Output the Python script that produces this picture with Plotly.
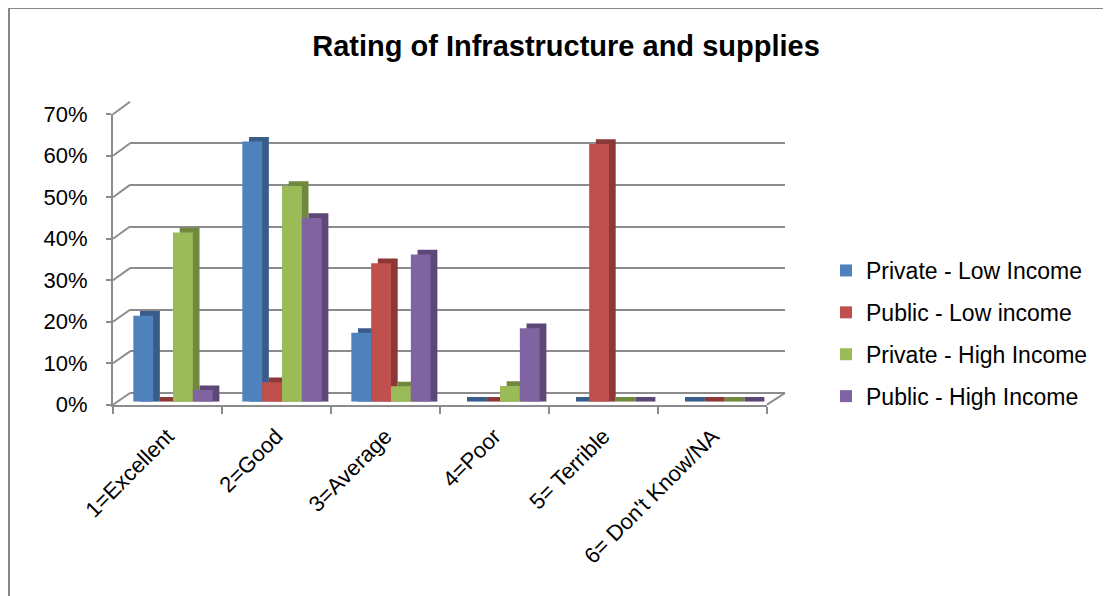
import plotly.graph_objects as go

categories = ["1=Excellent", "2=Good", "3=Average", "4=Poor", "5= Terrible", "6= Don't Know/NA"]
series_names = ["Private - Low Income", "Public - Low income", "Private - High Income", "Public - High Income"]
private_low = [0.207, 0.627, 0.166, 0.0, 0.0, 0.0]
public_low = [0.0, 0.047, 0.334, 0.0, 0.621, 0.0]
private_high = [0.408, 0.520, 0.037, 0.038, 0.0, 0.0]
public_high = [0.028, 0.443, 0.355, 0.177, 0.0, 0.0]
series_values = [private_low, public_low, private_high, public_high]
y_ticks = [0.0, 0.1, 0.2, 0.3, 0.4, 0.5, 0.6, 0.7]

front_colors = ["#4F81BD", "#C0504D", "#9BBB59", "#8064A2"]
side_colors = ["#385D8A", "#8C3836", "#71893F", "#5C4776"]

W, H = 1111, 596
PAGE_OFF = 8  # default body margin of the page
FONT = "Liberation Sans, Arial, sans-serif"
GRID = "#8c8c8c"

# pixel geometry (screen pixels) of the pseudo-3D walls
FX0, FX1, FY0, FY1 = 113, 767, 404.7, 114.3   # front axes
BX0, BX1, BY0, BY1 = 130, 785, 393.0, 101.7   # back wall
SX, SY = 5.5, 3.0                              # bar layer shift
YMAX = 0.7


def px(p):
    return (p - PAGE_OFF) / W


def py(p):
    return 1 - (p - PAGE_OFF) / H


cat_px = (FX1 - FX0) / len(categories)
bar_w = 0.182
dx_units = 6.7 / cat_px
dy_units = 4.7 / ((FY0 - FY1) / YMAX)

fig = go.Figure()
# anchor traces so the wall and front-axis subplots are drawn
fig.add_trace(go.Scatter(x=[], y=[], xaxis="x", yaxis="y", showlegend=False, hoverinfo="skip"))
for i, (name, vals) in enumerate(zip(series_names, series_values)):
    off = -2 * bar_w + i * bar_w
    # side/top face (shadow)
    fig.add_trace(go.Bar(
        x=categories, y=[v + dy_units for v in vals], base=0,
        offset=off + dx_units, width=bar_w,
        marker=dict(color=side_colors[i], line=dict(width=0)),
        xaxis="x2", yaxis="y2", showlegend=False, hoverinfo="skip",
        legendgroup=name,
    ))
    # front face
    fig.add_trace(go.Bar(
        x=categories, y=vals, name=name,
        offset=off, width=bar_w,
        marker=dict(color=front_colors[i], line=dict(width=0)),
        xaxis="x2", yaxis="y2", legendgroup=name,
    ))
fig.add_trace(go.Scatter(x=[], y=[], xaxis="x3", yaxis="y3", showlegend=False, hoverinfo="skip"))

n = len(categories)
shapes = []
# connectors from front ticks to back wall gridlines
for v in y_ticks:
    fy = FY0 - (FY0 - FY1) * v / YMAX
    by = BY0 - (BY0 - BY1) * v / YMAX
    shapes.append(dict(type="line", xref="paper", yref="paper",
                       x0=px(FX0), y0=py(fy), x1=px(BX0), y1=py(by),
                       line=dict(color=GRID, width=2)))
# right floor edge
shapes.append(dict(type="line", xref="paper", yref="paper",
                   x0=px(FX1), y0=py(FY0), x1=px(BX1), y1=py(BY0),
                   line=dict(color=GRID, width=2)))
# outer chart border
shapes.append(dict(type="rect", xref="paper", yref="paper",
                   x0=px(9), y0=py(8), x1=1.02, y1=-0.05,
                   line=dict(color="#868686", width=2), fillcolor="rgba(0,0,0,0)"))

fig.update_layout(
    width=W, height=H, autosize=False,
    margin=dict(l=0, r=0, t=0, b=0, autoexpand=False),
    paper_bgcolor="white", plot_bgcolor="rgba(0,0,0,0)",
    barmode="overlay",
    font=dict(family=FONT, color="black"),
    title=dict(text="<b>Rating of Infrastructure and supplies</b>",
               font=dict(family=FONT, size=29, color="black"),
               x=px(566), xanchor="center", y=py(46), yanchor="middle"),
    # back wall grid
    xaxis=dict(domain=[px(BX0), px(BX1)], range=[-0.5, n - 0.5], anchor="y",
               showgrid=False, showline=False, zeroline=False,
               showticklabels=False, ticks="", automargin=False),
    yaxis=dict(domain=[py(BY0), py(BY1)], range=[0, YMAX], anchor="x",
               tickmode="array", tickvals=y_ticks, showgrid=True, gridcolor=GRID, gridwidth=2,
               zeroline=True, zerolinecolor=GRID, zerolinewidth=2,
               showline=False, showticklabels=False, ticks="", automargin=False),
    # bar layer
    xaxis2=dict(domain=[px(FX0 + SX), px(FX1 + SX)], anchor="y2",
                type="category", categoryorder="array", categoryarray=categories,
                range=[-0.5, n - 0.5], visible=False, automargin=False),
    yaxis2=dict(domain=[py(FY0 - SY), py(FY1 - SY)], anchor="x2",
                range=[0, YMAX], visible=False, automargin=False),
    # front axes
    xaxis3=dict(domain=[px(FX0), px(FX1)], anchor="y3", range=[-0.5, n - 0.5],
                tickmode="array", tickvals=list(range(n)), ticktext=categories,
                tickangle=-45, ticks="", ticklabelstandoff=8,
                tickfont=dict(family=FONT, size=22, color="black"),
                minor=dict(tickmode="array", tickvals=[k - 0.5 for k in range(n + 1)],
                           ticks="outside", ticklen=7, tickwidth=2, tickcolor=GRID),
                showline=True, linecolor=GRID, linewidth=2,
                showgrid=False, zeroline=False, automargin=False),
    yaxis3=dict(domain=[py(FY0), py(FY1)], anchor="x3", range=[0, YMAX],
                tickmode="array", tickvals=y_ticks, tickformat=".0%",
                ticks="outside", ticklen=5, tickwidth=2, tickcolor=GRID,
                ticklabelstandoff=14,
                tickfont=dict(family=FONT, size=22, color="black"),
                showline=True, linecolor=GRID, linewidth=2,
                showgrid=False, zeroline=False, automargin=False),
    legend=dict(x=px(826), xanchor="left", y=py(249), yanchor="top",
                font=dict(family=FONT, size=23, color="black"),
                tracegroupgap=9, traceorder="grouped",
                bgcolor="rgba(0,0,0,0)"),
    shapes=shapes,
)

fig.write_html("out.html")
